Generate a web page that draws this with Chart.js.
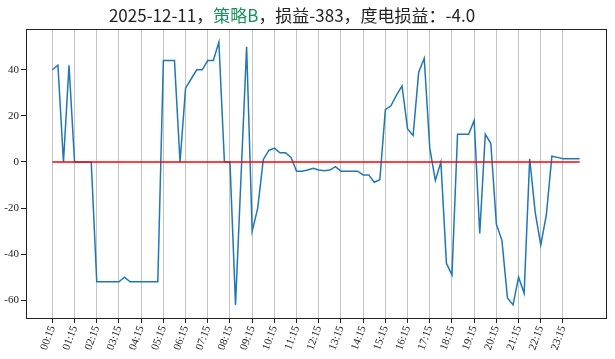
<!DOCTYPE html>
<html>
<head>
<meta charset="utf-8">
<script src="https://cdn.jsdelivr.net/npm/chart.js@4.4.1/dist/chart.umd.min.js"></script>
<style>
html, body { margin: 0; padding: 0; background: #fff; }
#wrap { position: relative; width: 615px; height: 359px; }
#title { position: absolute; left: 0; top: 2px; width: 584px; text-align: center;
         font: 17px "Noto Sans CJK SC", sans-serif; color: #222; white-space: nowrap; }
#title .green { color: #17905c; }
</style>
</head>
<body>
<div id="wrap">
  <div id="title">2025-12-11，<span class="green">策略B</span>，损益-383，度电损益：-4.0</div>
  <canvas id="c" width="615" height="359"></canvas>
</div>
<script>
// 每15分钟一个点
const times = [
  '00:15','00:30','00:45','01:00','01:15','01:30','01:45','02:00',
  '02:15','02:30','02:45','03:00','03:15','03:30','03:45','04:00',
  '04:15','04:30','04:45','05:00','05:15','05:30','05:45','06:00',
  '06:15','06:30','06:45','07:00','07:15','07:30','07:45','08:00',
  '08:15','08:30','08:45','09:00','09:15','09:30','09:45','10:00',
  '10:15','10:30','10:45','11:00','11:15','11:30','11:45','12:00',
  '12:15','12:30','12:45','13:00','13:15','13:30','13:45','14:00',
  '14:15','14:30','14:45','15:00','15:15','15:30','15:45','16:00',
  '16:15','16:30','16:45','17:00','17:15','17:30','17:45','18:00',
  '18:15','18:30','18:45','19:00','19:15','19:30','19:45','20:00',
  '20:15','20:30','20:45','21:00','21:15','21:30','21:45','22:00',
  '22:15','22:30','22:45','23:00','23:15','23:30','23:45','24:00'
];

// 损益
const pnl = [
  40, 42, 0, 42, 0, 0, 0, 0,
  -52, -52, -52, -52, -52, -50, -52, -52,
  -52, -52, -52, -52, 44, 44, 44, 0,
  32, 36, 40, 40, 44, 44, 52, 0,
  0, -62, -6, 50, -30, -20, 1, 5,
  6, 4, 4, 2, -4, -4, -3.5, -2.7,
  -3.5, -3.8, -3.5, -2, -4, -4, -4, -4,
  -5.6, -5.6, -8.8, -7.7, 22.7, 24.4, 29, 33,
  14.3, 11.5, 39, 45, 6, -8, 0, -44,
  -49, 12, 12, 12, 18, -31, 12, 8,
  -27, -34, -59, -62, -50, -57, 1.4, -22,
  -36, -23, 2.5, 2, 1.4, 1.4, 1.4, 1.4
];

const baseline = 0;
const yTicks = [-60, -40, -20, 0, 20, 40];
const tickFont = { family: '"Liberation Serif", "DejaVu Serif", serif', size: 11 };

const frame = {
  id: 'frame',
  afterDraw(chart) {
    const a = chart.chartArea, ctx = chart.ctx;
    ctx.save();
    ctx.strokeStyle = '#222';
    ctx.lineWidth = 1;
    ctx.strokeRect(Math.round(a.left) + 0.5, Math.round(a.top) + 0.5,
                   Math.round(a.right - a.left), Math.round(a.bottom - a.top));
    ctx.restore();
  }
};

new Chart(document.getElementById('c'), {
  type: 'line',
  data: {
    datasets: [{
      data: times.map((t, i) => ({ x: i, y: baseline })),
      borderColor: '#ff0000',
      borderWidth: 1.5,
      pointRadius: 0
    }, {
      data: pnl.map((v, i) => ({ x: i, y: v })),
      borderColor: '#1f77b4',
      borderWidth: 1.5,
      pointRadius: 0,
      tension: 0
    }]
  },
  options: {
    responsive: false,
    animation: false,
    layout: { padding: { top: 29, right: 9, left: 0, bottom: 0 } },
    plugins: { legend: { display: false }, tooltip: { enabled: false } },
    scales: {
      x: {
        type: 'linear',
        min: -4.75,
        max: 99.75,
        afterBuildTicks: s => { s.ticks = times.map((t, i) => i).filter(i => i % 4 === 0).map(v => ({ value: v })); },
        afterFit: s => { s.height = 41; },
        ticks: {
          autoSkip: false, minRotation: 70, maxRotation: 70, padding: 1,
          color: '#222', font: tickFont,
          callback: v => times[v]
        },
        grid: { color: '#c4c4c4', lineWidth: 1, tickColor: '#222', tickLength: 5 },
        border: { color: '#222' }
      },
      y: {
        min: -67.7,
        max: 57.7,
        afterBuildTicks: s => { s.ticks = yTicks.map(v => ({ value: v })); },
        afterFit: s => { s.width = 26; },
        ticks: { color: '#222', font: tickFont, padding: 2, callback: v => String(v) },
        grid: { drawOnChartArea: false, tickColor: '#222', tickLength: 5 },
        border: { color: '#222' }
      }
    }
  },
  plugins: [frame]
});
</script>
</body>
</html>
